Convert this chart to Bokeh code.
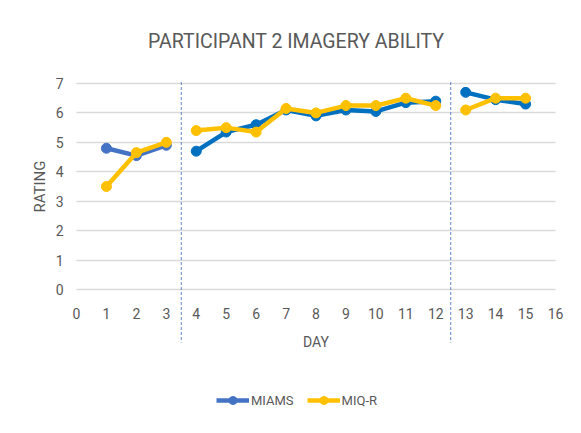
from bokeh.plotting import figure
from bokeh.models import FixedTicker, Legend, LegendItem, Range1d
from bokeh.core.properties import value
from bokeh.embed import file_html
from bokeh.resources import INLINE

# ---- data ----
days = [1, 2, 3, 4, 5, 6, 7, 8, 9, 10, 11, 12, 13, 14, 15]
phase = [1, 1, 1, 2, 2, 2, 2, 2, 2, 2, 2, 2, 3, 3, 3]
miams = [4.8, 4.55, 4.9, 4.7, 5.35, 5.6, 6.1, 5.9, 6.1, 6.05, 6.35, 6.4, 6.7, 6.45, 6.3]
miqr = [3.5, 4.65, 5.0, 5.4, 5.5, 5.35, 6.15, 6.0, 6.25, 6.25, 6.5, 6.25, 6.1, 6.5, 6.5]
phase_breaks = [3.5, 12.5]
x_ticks = list(range(0, 17))
y_ticks = list(range(0, 8))
title_text = "PARTICIPANT 2 IMAGERY ABILITY"
x_label = "DAY"
y_label = "RATING"
series_names = ["MIAMS", "MIQ-R"]

FONT = "Roboto"
GRAY = "#595959"
BLUE_PHASE = {1: "#4472C4", 2: "#0070C0", 3: "#0070C0"}
YELLOW = "#FFC000"

p = figure(width=565, height=417,
           x_range=Range1d(-2.5386, 16.334), y_range=Range1d(-4.3495, 9.8204),
           output_backend="svg", toolbar_location=None, min_border=0)
p.outline_line_color = None
p.background_fill_color = "white"
p.border_fill_color = "white"

# axes inside the frame
for ax in (p.xaxis, p.yaxis):
    ax.fixed_location = 0
    ax.axis_line_color = None
    ax.major_tick_line_color = None
    ax.minor_tick_line_color = None
    ax.major_label_text_font = FONT
    ax.major_label_text_font_size = "14px"
    ax.major_label_text_color = GRAY
    ax.axis_label_text_font = FONT
    ax.axis_label_text_color = GRAY
    ax.axis_label_text_font_style = "normal"

p.xaxis.ticker = FixedTicker(ticks=x_ticks)
p.xaxis.bounds = (x_ticks[0], x_ticks[-1])
p.xaxis.axis_label = x_label
p.xaxis.axis_label_text_font_size = "14px"
p.xaxis.major_label_standoff = 12
p.xaxis.axis_label_standoff = 12

p.yaxis.ticker = FixedTicker(ticks=y_ticks)
p.yaxis.bounds = (y_ticks[0], y_ticks[-1])
p.yaxis.axis_label = y_label
p.yaxis.axis_label_text_font_size = "15px"
p.yaxis.major_label_standoff = 7
p.yaxis.axis_label_standoff = 4

p.xgrid.visible = False
p.ygrid.ticker = FixedTicker(ticks=y_ticks)
p.ygrid.grid_line_color = "#d9d9d9"
p.ygrid.grid_line_width = 1.3
try:
    p.ygrid.cross_bounds = (x_ticks[0], x_ticks[-1])
except Exception:
    p.ygrid.visible = False
    p.segment(x0=[x_ticks[0]] * len(y_ticks), x1=[x_ticks[-1]] * len(y_ticks),
              y0=y_ticks, y1=y_ticks, line_color="#d9d9d9", line_width=1.3)

# phase-change dashed lines
p.segment(x0=phase_breaks, x1=phase_breaks, y0=[7.05] * len(phase_breaks), y1=[-1.8] * len(phase_breaks),
          line_color="#4472C4", line_width=1, line_dash="3 2", line_alpha=0.85)

legend_renderers = {0: [], 1: []}
for si, vals in enumerate([miams, miqr]):
    for ph in sorted(set(phase)):
        xs = [d for d, q in zip(days, phase) if q == ph]
        ys = [v for v, q in zip(vals, phase) if q == ph]
        color = BLUE_PHASE[ph] if si == 0 else YELLOW
        lr = p.line(xs, ys, line_color=color, line_width=4.5)
        sr = p.scatter(xs, ys, marker="circle", size=10, fill_color=color, line_color=color)
        if ph == 1:
            legend_renderers[si] = [lr, sr]

p.text(x=[7.34], y=[8.44], text=[title_text], text_font=value(FONT), text_font_size="19.5px",
       text_color=GRAY, text_align="center", text_baseline="middle")

legend = Legend(items=[LegendItem(label=series_names[0], renderers=legend_renderers[0]),
                       LegendItem(label=series_names[1], renderers=legend_renderers[1])],
                orientation="horizontal", location=(216, 7),
                glyph_width=33, glyph_height=20, label_standoff=2, spacing=13,
                padding=0, margin=0, border_line_color=None, background_fill_alpha=0,
                label_text_font=FONT, label_text_font_size="13px", label_text_color=GRAY)
p.add_layout(legend)

open("out.html", "w").write(file_html(p, INLINE))
